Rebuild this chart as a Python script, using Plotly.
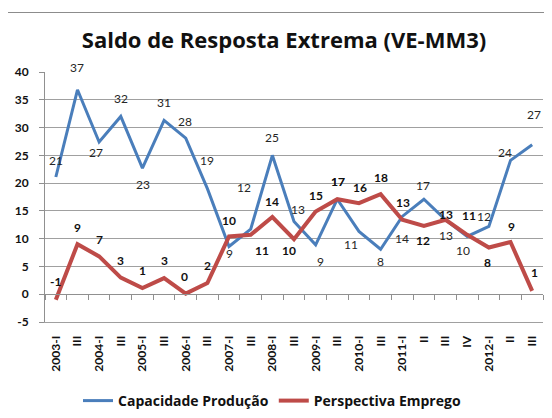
import plotly.graph_objects as go

# ---- data ----
quarters = ["2003-I", "III", "2004-I", "III", "2005-I", "III", "2006-I", "III",
            "2007-I", "III", "2008-I", "III", "2009-I", "III", "2010-I", "III",
            "2011-I", "II", "III", "IV", "2012-I", "II", "III"]
capacidade = [21.1, 36.8, 27.4, 32.0, 22.7, 31.3, 28.1, 19.0, 8.6, 11.7, 25.0, 13.1,
              8.9, 17.1, 11.3, 8.1, 14.0, 17.1, 13.4, 10.4, 12.2, 24.1, 26.9]
emprego = [-1.0, 9.0, 6.8, 3.0, 1.1, 2.9, 0.1, 2.0, 10.4, 10.7, 13.9, 9.9,
           14.9, 17.1, 16.4, 18.0, 13.4, 12.3, 13.4, 10.7, 8.4, 9.4, 0.6]
y_ticks = [-5, 0, 5, 10, 15, 20, 25, 30, 35, 40]

# label offsets in pixels (dx, dy; dy positive = downward) -- style only
cap_off = [(0, -17), (0, -22), (-3, 10), (0, -18), (1, 16), (0, -18), (-1, -17), (0, -28),
           (0, 7), (-7, -42), (0, -18), (4, -12), (5, 17), (1, -18), (-8, 13), (0, 12),
           (0, 22), (-1, -14), (0, 16), (-4, 14), (-5, -10), (-6, -8), (2, -30)]
emp_off = [(0, -18), (0, -17), (0, -17), (0, -17), (0, -18), (0, -18), (-1, -17), (0, -18),
           (0, -16), (11, 16), (0, -16), (-5, 11), (0, -16), (1, -18), (1, -16), (0, -17),
           (1, -17), (-1, 15), (0, -5), (2, -19), (-1, 15), (1, -16), (2, -18)]

BLUE = "#4A7EBB"
RED = "#BE4B48"
FONT = "Lato"
FONT2 = "Open Sans"

xs = list(range(len(quarters)))

fig = go.Figure()
fig.add_trace(go.Scatter(x=xs, y=capacidade, mode="lines", name="<b>Capacidade Produção</b>",
                         line=dict(color=BLUE, width=3), hoverinfo="skip"))
fig.add_trace(go.Scatter(x=xs, y=emprego, mode="lines", name="<b>Perspectiva Emprego</b>",
                         line=dict(color=RED, width=4), hoverinfo="skip"))
# dummy trace to activate secondary x axis (tick marks at y=0)
fig.add_trace(go.Scatter(x=[None], y=[None], xaxis="x2", showlegend=False, hoverinfo="skip"))

annotations = []
for i, v in enumerate(capacidade):
    dx, dy = cap_off[i]
    annotations.append(dict(x=xs[i], y=v, text=f"{round(v):d}", showarrow=False,
                            xshift=dx, yshift=-dy,
                            font=dict(family=FONT, size=12, color="#262626")))
for i, v in enumerate(emprego):
    dx, dy = emp_off[i]
    annotations.append(dict(x=xs[i], y=v, text=f"<b>{round(v):d}</b>", showarrow=False,
                            xshift=dx, yshift=-dy,
                            font=dict(family=FONT, size=12, color="#111111")))

# page body adds an 8px offset, so the figure is 8px smaller and shifted
OFF = 8
W, H = 552 - OFF, 418 - OFF
L, R, T, B = 45 - OFF, 9, 72 - OFF, 96
pw, ph = W - L - R, H - T - B

fig.update_layout(
    template="none",
    width=W, height=H,
    margin=dict(l=L, r=R, t=T, b=B, autoexpand=False),
    paper_bgcolor="white", plot_bgcolor="white",
    font=dict(family=FONT, color="#111111"),
    title=dict(text="<b>Saldo de Resposta Extrema (VE-MM3)</b>",
               x=(284 - OFF) / W, xanchor="center", xref="container",
               y=1 - (40 - OFF) / H, yanchor="middle", yref="container",
               font=dict(family=FONT2, size=22, color="#111111")),
    xaxis=dict(range=[-0.5, len(quarters) - 0.5], tickmode="array", tickvals=xs,
               ticktext=[f"<b>{q}</b>" for q in quarters], tickangle=-90,
               tickfont=dict(family=FONT, size=12, color="#111111"),
               ticklabelstandoff=8,
               showgrid=False, zeroline=False, showline=True, linecolor="#a0a0a0",
               linewidth=1, ticks="", automargin=False),
    xaxis2=dict(overlaying="x", anchor="free", position=5 / 45,
                range=[-0.5, len(quarters) - 0.5], tickmode="array",
                tickvals=[i - 0.5 for i in range(len(quarters) + 1)],
                showticklabels=False, ticks="outside", ticklen=5, tickcolor="#909090",
                showline=True, linecolor="#909090", linewidth=1,
                showgrid=False, zeroline=False, automargin=False),
    yaxis=dict(range=[-5, 40], tickmode="array", tickvals=y_ticks,
               ticktext=[f"<b>{t}</b>" for t in y_ticks],
               showgrid=True, gridcolor="#a0a0a0",
               gridwidth=1, zeroline=False, showline=True, linecolor="#909090",
               ticks="outside", ticklen=5, tickcolor="#909090",
               ticklabelstandoff=8, automargin=False,
               tickfont=dict(family=FONT, size=12, color="#111111")),
    legend=dict(orientation="h", x=(272 - 45) / pw, xanchor="center",
                y=(322 - 401) / ph, yanchor="middle",
                font=dict(family=FONT2, size=14, color="#111111"),
                bgcolor="rgba(0,0,0,0)"),
    annotations=annotations,
    shapes=[dict(type="rect", xref="paper", yref="paper",
                 x0=(6.5 - 45) / pw, x1=(560 - 45) / pw,
                 y0=(322 - 430) / ph, y1=(322 - 12.5) / ph,
                 line=dict(color="#8c8c8c", width=1), fillcolor="rgba(0,0,0,0)",
                 layer="below")],
)

fig.write_html("out.html")
